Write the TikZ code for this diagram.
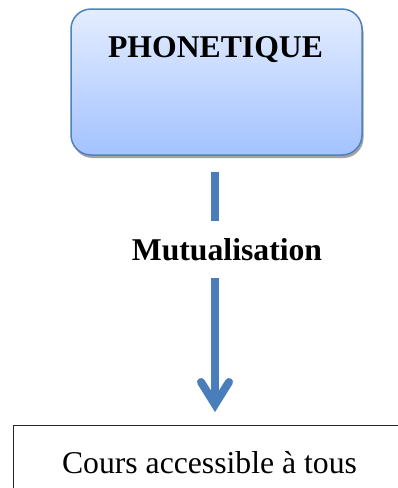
\documentclass[tikz,border=0pt]{standalone}
\usepackage{fontspec}
\setmainfont{Liberation Serif}
\usetikzlibrary{shadows}
\definecolor{boxtop}{HTML}{E4EDFF}
\definecolor{boxbot}{HTML}{A3C2FF}
\definecolor{boxline}{HTML}{4F81BD}
\definecolor{arrowblue}{HTML}{4A7EBB}
\tikzset{
  x=1pt,y=1pt,
  bigfont/.style={font=\fontsize{31.7}{36}\selectfont},
  phonbox/.style={draw=boxline, line width=1.5pt, rounded corners=20pt,
    top color=boxtop, bottom color=boxbot, minimum width=291pt, minimum height=146pt,
    drop shadow={shadow xshift=1.5pt, shadow yshift=-3pt, fill=black!45, opacity=0.8}},
  lbl/.style={bigfont, inner sep=0pt, anchor=base},
  conn/.style={draw=arrowblue, line width=8pt},
  barb/.style={draw=arrowblue, line width=8pt, line cap=round, line join=miter},
  courbox/.style={draw=black!85, line width=1pt, minimum width=400pt, minimum height=80pt, anchor=north west},
}
\begin{document}
\begin{tikzpicture}
\useasboundingbox (0,0) rectangle (398,-488);
\node[phonbox] (top) at (216.5,-82) {};
\node[lbl] (ptxt) at (215.5,-57) {\bfseries PHONETIQUE};
\node[lbl] (mut) at (227,-260) {\bfseries Mutualisation};
\node[courbox] (cour) at (13,-425) {};
\node[lbl] (ctxt) at (209.5,-473) {Cours accessible à tous};
\coordinate (a1) at (215,-172);
\coordinate (a2) at (215,-221);
\coordinate (b1) at (215,-278);
\coordinate (b2) at (215,-404.5);
\draw[conn] (a1) -- (a2);
\draw[conn] (b1) -- (b2);
\draw[barb] ([shift={(-14,22.5)}]b2) -- (b2) -- ([shift={(14,22.5)}]b2);
\end{tikzpicture}
\end{document}
